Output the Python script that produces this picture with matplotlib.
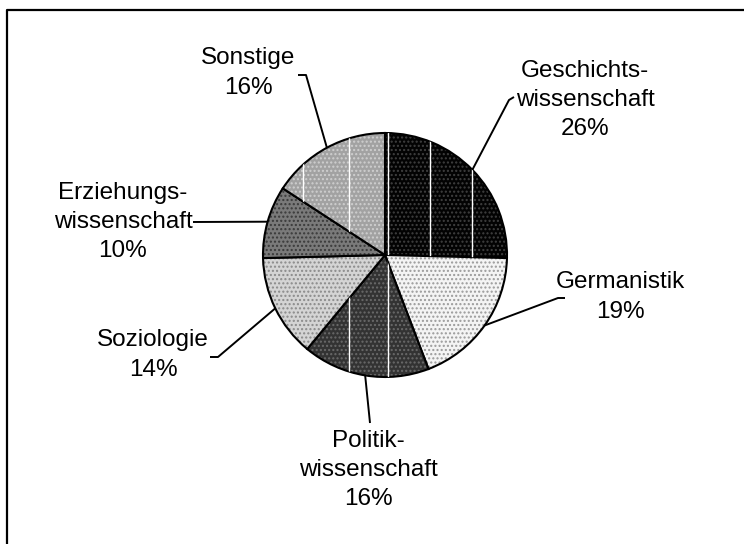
import numpy as np
import matplotlib
matplotlib.use("Agg")
import matplotlib.pyplot as plt

# ---- data ----
categories = ["Geschichts-\nwissenschaft", "Germanistik", "Politik-\nwissenschaft",
              "Soziologie", "Erziehungs-\nwissenschaft", "Sonstige"]
shares = [25.4, 18.8, 16.8, 13.6, 9.6, 15.8]
pct_labels = ["26%", "19%", "16%", "14%", "10%", "16%"]

# ---- style ----
face_colors = ["#030303", "#f4f4f4", "#333333", "#d4d4d4", "#7a7a7a", "#a2a2a2"]
hatch_colors = ["#404040", "#9a9a9a", "#6a6a6a", "#8a8a8a", "#3a3a3a", "#cfcfcf"]

W, H = 744, 544
fig = plt.figure(figsize=(W / 100, H / 100), dpi=100)
ax = fig.add_axes([0, 0, 1, 1])

def yp(y):
    return H - y

cx, cy, r = 385, yp(255), 122

wedges, _ = ax.pie(shares, center=(cx, cy), radius=r, startangle=90,
                   counterclock=False, colors=face_colors,
                   wedgeprops=dict(edgecolor="black", linewidth=1.5), frame=True)
for w, hc in zip(wedges, hatch_colors):
    w.set_hatch("....")
    w._hatch_color = matplotlib.colors.to_rgba(hc)
ax.set_xlim(0, W)
ax.set_ylim(0, H)
ax.set_aspect("equal")
ax.axis("off")

# faint white vertical streaks seen inside some wedges of the original
streak_offsets = np.array([-82, -36, 3, 45, 87])
for idx in (0, 2, 5):
    for off in streak_offsets:
        ln, = ax.plot([cx + off, cx + off], [cy - r, cy + r], color="white", lw=1.0, zorder=3)
        ln.set_clip_path(wedges[idx])
for w in wedges:
    w.set_zorder(2)

font = dict(family=["Liberation Sans", "DejaVu Sans"], fontsize=17.5)

# label block centers (pixels from top-left) and leader elbows
label_pos = [(585, 100), (620, 297), (368, 470), (153, 355), (123, 222), (248, 73)]
leader_start = [[(514, 97), (509, 100)], [(565, 298), (558, 298)], [(370, 423)],
                [(210, 357), (218, 357)], [(193, 222)], [(298, 75), (306, 75)]]

for w, cat, pct, (lx, ly), pts in zip(wedges, categories, pct_labels, label_pos, leader_start):
    ang = np.deg2rad((w.theta1 + w.theta2) / 2)
    ex, ey = cx + r * np.cos(ang), cy + r * np.sin(ang)
    xs = [p[0] for p in pts] + [ex]
    ys = [yp(p[1]) for p in pts] + [ey]
    ax.plot(xs, ys, color="black", lw=1.4, solid_capstyle="butt", zorder=4)
    ax.text(lx, yp(ly), cat + "\n" + pct, ha="center", va="center",
            linespacing=1.42, **font)

# outer frame
ax.plot([7, 7, W + 5], [-5, yp(10), yp(10)], color="black", lw=1.6)

fig.savefig("out.png", dpi=100)
